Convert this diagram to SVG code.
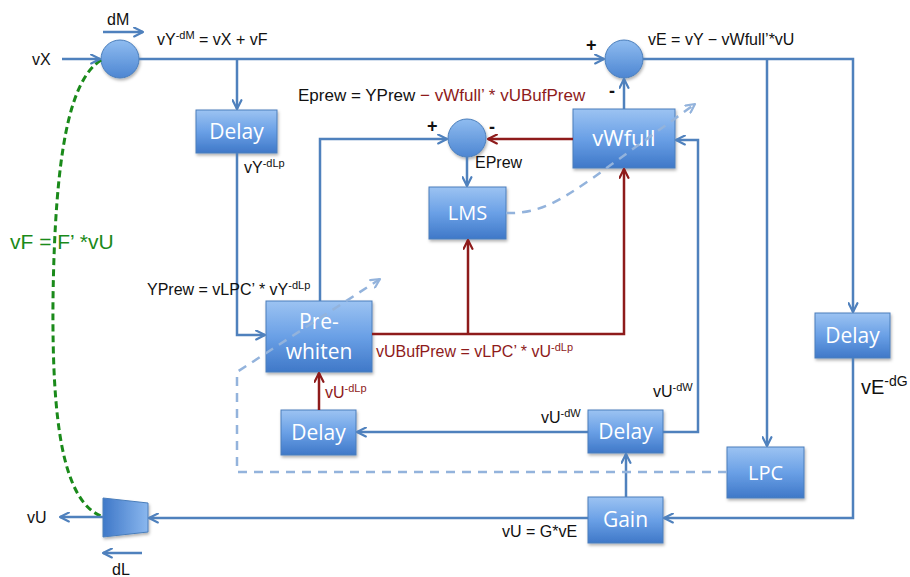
<svg xmlns="http://www.w3.org/2000/svg" width="910" height="577" viewBox="0 0 910 577">
<defs>
<linearGradient id="gBox" x1="0" y1="0" x2="0" y2="1">
<stop offset="0" stop-color="#9cc3f2"/>
<stop offset="0.5" stop-color="#6aa0e6"/>
<stop offset="1" stop-color="#3f78c8"/>
</linearGradient>
<linearGradient id="gCirc" x1="0" y1="0" x2="0" y2="1">
<stop offset="0" stop-color="#8fbcf0"/>
<stop offset="1" stop-color="#4d86d2"/>
</linearGradient>
<linearGradient id="gTrap" x1="0" y1="0" x2="1" y2="0">
<stop offset="0" stop-color="#3f78c8"/>
<stop offset="1" stop-color="#8ab7ee"/>
</linearGradient>
<filter id="sh" x="-10%" y="-10%" width="130%" height="140%">
<feDropShadow dx="1" dy="2" stdDeviation="1.5" flood-color="#000" flood-opacity="0.3"/>
</filter>
<marker id="aB" viewBox="0 0 10 10" refX="9" refY="5" markerWidth="11" markerHeight="11" markerUnits="userSpaceOnUse" orient="auto">
<path d="M1,1 L9,5 L1,9" fill="none" stroke="#4f81bd" stroke-width="2" stroke-linecap="round" stroke-linejoin="round"/>
</marker>
<marker id="aR" viewBox="0 0 10 10" refX="9" refY="5" markerWidth="11" markerHeight="11" markerUnits="userSpaceOnUse" orient="auto">
<path d="M1,1 L9,5 L1,9" fill="none" stroke="#8e1b1b" stroke-width="2" stroke-linecap="round" stroke-linejoin="round"/>
</marker>
<marker id="aL" viewBox="0 0 10 10" refX="9" refY="5" markerWidth="11" markerHeight="11" markerUnits="userSpaceOnUse" orient="auto">
<path d="M1,1 L9,5 L1,9" fill="none" stroke="#93b3dc" stroke-width="2" stroke-linecap="round" stroke-linejoin="round"/>
</marker>
</defs>
<style>
.box{fill:url(#gBox);stroke:#4a7ebb;stroke-width:1;filter:url(#sh)}
.circ{fill:url(#gCirc);stroke:#4a7ebb;stroke-width:1;filter:url(#sh)}
.bt{font-family:"Open Sans","Liberation Sans",sans-serif;fill:#fff;text-anchor:middle}
.lb{font-family:"Liberation Sans",Arial,sans-serif;font-size:16px;fill:#111}
.red{fill:#8e1b1b}
.grn{fill:#1a8a1a}
.sg{font-size:18px;font-weight:bold}
.blue{fill:none;stroke:#4f81bd;stroke-width:2.5;marker-end:url(#aB)}
.redl{fill:none;stroke:#8e1b1b;stroke-width:2.5;marker-end:url(#aR)}
.dash{fill:none;stroke:#93b3dc;stroke-width:2.5;stroke-dasharray:9 7;marker-end:url(#aL)}
.green{fill:none;stroke:#1a8a1a;stroke-width:3;stroke-dasharray:7 4}
</style>
<rect width="910" height="577" fill="#fff"/>
<g id="nodes">
<g id="sum1"><circle class="circ" cx="120" cy="59" r="19"/></g>
<g id="sum2"><circle class="circ" cx="624" cy="59" r="19"/></g>
<g id="sum3"><circle class="circ" cx="467" cy="138" r="19"/></g>
<g id="delay1"><rect class="box" x="196" y="110" width="81" height="43"/><text class="bt" x="236.5" y="139" font-size="21">Delay</text></g>
<g id="vwfull"><rect class="box" x="573" y="109" width="102" height="59"/><text class="bt" x="624" y="146" font-size="22">vWfull</text></g>
<g id="lms"><rect class="box" x="429" y="187" width="77" height="52"/><text class="bt" x="467.5" y="220" font-size="20">LMS</text></g>
<g id="prewhiten"><rect class="box" x="266" y="301" width="106" height="71"/><text class="bt" x="319" y="329" font-size="21">Pre-</text><text class="bt" x="319" y="359" font-size="21">whiten</text></g>
<g id="delay2"><rect class="box" x="281" y="410" width="75" height="45"/><text class="bt" x="318.5" y="440" font-size="21">Delay</text></g>
<g id="delay3"><rect class="box" x="588" y="410" width="75" height="43"/><text class="bt" x="625.5" y="439" font-size="21">Delay</text></g>
<g id="gain"><rect class="box" x="588" y="497" width="75" height="46"/><text class="bt" x="625.5" y="527" font-size="21">Gain</text></g>
<g id="lpc"><rect class="box" x="727" y="447" width="77" height="51"/><text class="bt" x="765.5" y="480" font-size="20">LPC</text></g>
<g id="delay4"><rect class="box" x="815" y="313" width="75" height="45"/><text class="bt" x="852.5" y="343" font-size="21">Delay</text></g>
<g id="dac"><polygon points="103,498 148,503 148,532 103,537" fill="url(#gTrap)" stroke="#4a7ebb" stroke-width="1" filter="url(#sh)"/></g>
</g>
<g id="connectors">
<path class="green" d="M101,60 C70,80 55,150 53,300 C52,420 62,502 103,517"/>
<path class="blue" d="M62,59 L100,59"/>
<path class="blue" d="M103,32 L143,32"/>
<path class="blue" d="M139,59 L604,59"/>
<path class="blue" d="M237,59 L237,109"/>
<path class="blue" d="M237,153 L237,335 L265,335"/>
<path class="blue" d="M320,301 L320,139 L447,139"/>
<path class="blue" d="M467,157 L467,186"/>
<path class="blue" d="M624,109 L624,79"/>
<path class="blue" d="M643,59 L853,59 L853,312"/>
<path class="blue" d="M767,59 L767,446"/>
<path class="blue" d="M853,358 L853,518 L664,518"/>
<path class="blue" d="M626,497 L626,454"/>
<path class="blue" d="M663,432 L698,432 L698,140 L676,140"/>
<path class="blue" d="M588,432 L357,432"/>
<path class="blue" d="M588,518 L149,518"/>
<path class="blue" d="M103,517 L60,517"/>
<path class="blue" d="M142,553 L103,553"/>
<path class="redl" d="M573,139 L488,139"/>
<path class="redl" d="M372,334 L624,334 L624,169"/>
<path class="redl" d="M468,334 L468,240"/>
<path class="redl" d="M319,410 L319,373"/>
<path class="dash" d="M506,213 C540,214 560,200 590,180 L695,104"/>
<path class="dash" d="M727,472 L237,472 L237,372 L380,279"/>
</g>
<g id="labels">
<text class="lb" x="32" y="65">vX</text>
<text class="lb" x="107" y="25">dM</text>
<text class="lb" x="157" y="45">vY<tspan font-size="11" dy="-6">-dM</tspan><tspan dy="6"> = vX + vF</tspan></text>
<text class="lb sg" x="586" y="51">+</text>
<text class="lb sg" x="609" y="97">-</text>
<text class="lb" x="648" y="45">vE = vY − vWfull’*vU</text>
<text class="lb" x="298" y="101" style="font-size:17px">Eprew = YPrew <tspan class="red">− vWfull’ * vUBufPrew</tspan></text>
<text class="lb sg" x="427" y="132">+</text>
<text class="lb sg" x="489" y="133">-</text>
<text class="lb" x="475" y="168">EPrew</text>
<text class="lb" x="244" y="173">vY<tspan font-size="11" dy="-6">-dLp</tspan></text>
<text class="lb" x="147" y="295">YPrew = vLPC’ * vY<tspan font-size="11" dy="-6">-dLp</tspan></text>
<text class="lb red" x="376" y="357">vUBufPrew = vLPC’ * vU<tspan font-size="11" dy="-6">-dLp</tspan></text>
<text class="lb red" x="325" y="398">vU<tspan font-size="11" dy="-6">-dLp</tspan></text>
<text class="lb" x="541" y="423">vU<tspan font-size="11" dy="-6">-dW</tspan></text>
<text class="lb" x="653" y="397">vU<tspan font-size="11" dy="-6">-dW</tspan></text>
<text class="lb" x="861" y="394" style="font-size:20px">vE<tspan font-size="14" dy="-8">-dG</tspan></text>
<text class="lb" x="502" y="537">vU = G*vE</text>
<text class="lb" x="27" y="523">vU</text>
<text class="lb" x="112" y="575">dL</text>
<text class="lb grn" x="10" y="249" style="font-size:21px">vF = F’ *vU</text>
</g>
</svg>
